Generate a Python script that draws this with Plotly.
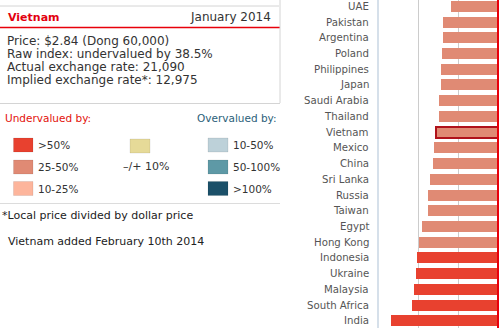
import plotly.graph_objects as go

countries = ["UAE", "Pakistan", "Argentina", "Poland", "Philippines", "Japan",
             "Saudi Arabia", "Thailand", "Vietnam", "Mexico", "China", "Sri Lanka",
             "Russia", "Taiwan", "Egypt", "Hong Kong", "Indonesia", "Ukraine",
             "Malaysia", "South Africa", "India"]
values = [-29.5, -34.6, -34.6, -35.2, -35.8, -35.8, -36.9, -36.9, -38.5, -39.7,
          -40.5, -42.2, -43.5, -43.5, -47.3, -49.6, -50.4, -51.0, -52.3, -53.5, -66.9]
highlight = "Vietnam"

legend_under = [">50%", "25-50%", "10-25%"]
legend_mid = ["\u2013/+ 10%"]
legend_over = ["10-50%", "50-100%", ">100%"]
col_under = ["#E8412F", "#E08A74", "#FDB59C"]
col_mid = ["#E6DA98"]
col_over = ["#BDD1D9", "#5E99A6", "#1B5069"]

info_lines = ["Price: $2.84 (Dong 60,000)",
              "Raw index: undervalued by 38.5%",
              "Actual exchange rate: 21,090",
              "Implied exchange rate*: 12,975"]

W, H = 500, 328
FONT = "DejaVu Sans, Verdana, sans-serif"


def px(x):
    return x / W


def py(y):
    return 1 - y / H


def bar_color(v):
    a = -v
    if a > 50:
        return col_under[0]
    if a > 25:
        return col_under[1]
    return col_under[2]


ypos = list(range(len(countries)))
fig = go.Figure()
fig.add_trace(go.Bar(
    x=values, y=ypos, orientation="h", width=0.7,
    marker=dict(color=[bar_color(v) for v in values],
                line=dict(color=["#B0121B" if c == highlight else "rgba(0,0,0,0)" for c in countries],
                          width=[2 if c == highlight else 0 for c in countries])),
    hoverinfo="skip"))

shapes = []
annotations = []

# zero line
shapes.append(dict(type="line", xref="x", yref="paper", x0=0, x1=0, y0=0, y1=1,
                   line=dict(color="#E8000B", width=2), layer="above"))
# left axis border
shapes.append(dict(type="line", xref="paper", yref="paper", x0=px(378), x1=px(378), y0=0, y1=1,
                   line=dict(color="#C9D6E3", width=1.5)))

# left panel lines
shapes.append(dict(type="line", xref="paper", yref="paper", x0=0, x1=px(279), y0=py(6), y1=py(6),
                   line=dict(color="#D4D4D4", width=1)))
shapes.append(dict(type="line", xref="paper", yref="paper", x0=0, x1=px(280), y0=py(27.5), y1=py(27.5),
                   line=dict(color="#E8000B", width=1.5)))
shapes.append(dict(type="line", xref="paper", yref="paper", x0=px(280), x1=px(280), y0=py(0), y1=py(103),
                   line=dict(color="#D4D4D4", width=1)))
shapes.append(dict(type="line", xref="paper", yref="paper", x0=0, x1=px(280), y0=py(103.5), y1=py(103.5),
                   line=dict(color="#D4D4D4", width=1)))
shapes.append(dict(type="line", xref="paper", yref="paper", x0=0, x1=px(280), y0=py(203.5), y1=py(203.5),
                   line=dict(color="#DCDCDC", width=1)))


def text(x, y, s, size=11, color="#333333", anchor="left", bold=False):
    annotations.append(dict(xref="paper", yref="paper", x=px(x), y=py(y), text=("<b>%s</b>" % s) if bold else s,
                            showarrow=False, xanchor=anchor, yanchor="middle",
                            font=dict(family=FONT, size=size, color=color)))


text(6, 17, "Vietnam", size=11, color="#E3000F", bold=True)
text(273, 17, "January 2014", size=12, color="#333333", anchor="right")
for i, s in enumerate(info_lines):
    text(5, 41.5 + i * 12.8, s, size=12, color="#333333")

text(3, 118, "Undervalued by:", size=10.5, color="#E3120B")
text(279, 118, "Overvalued by:", size=10.5, color="#2C5F7A", anchor="right")

rows = [145, 167, 188.5]
for i, (lab, c) in enumerate(zip(legend_under, col_under)):
    y = rows[i]
    shapes.append(dict(type="rect", xref="paper", yref="paper", x0=px(13.5), x1=px(33), y0=py(y - 7), y1=py(y + 7),
                       fillcolor=c, line=dict(color="rgba(0,0,0,0.08)", width=1)))
    text(36, y, lab, size=10.5, color="#333333")
for i, (lab, c) in enumerate(zip(legend_over, col_over)):
    y = rows[i]
    shapes.append(dict(type="rect", xref="paper", yref="paper", x0=px(208), x1=px(228), y0=py(y - 7), y1=py(y + 7),
                       fillcolor=c, line=dict(color="rgba(0,0,0,0.08)", width=1)))
    text(231, y, lab, size=10.5, color="#333333")
shapes.append(dict(type="rect", xref="paper", yref="paper", x0=px(130), x1=px(150), y0=py(139), y1=py(153),
                   fillcolor=col_mid[0], line=dict(color="rgba(0,0,0,0.08)", width=1)))
text(145.5, 166, legend_mid[0], size=11, color="#333333", anchor="center")

text(0, 215, "*Local price divided by dollar price", size=11, color="#222222")
text(6, 241.5, "Vietnam added February 10th 2014", size=11, color="#222222")

# country labels placed on the y data scale
for i, c in enumerate(countries):
    annotations.append(dict(xref="paper", yref="y", x=px(371), y=ypos[i], text=c, showarrow=False,
                            xanchor="right", yanchor="middle",
                            font=dict(family=FONT, size=10.2, color="#555555")))

pitch = 15.73
top_center = 6.3
y_top = -top_center / pitch
y_bot = (H - top_center) / pitch

fig.update_layout(
    width=W, height=H, margin=dict(l=0, r=0, t=0, b=0),
    paper_bgcolor="white", plot_bgcolor="white", showlegend=False,
    shapes=shapes, annotations=annotations, bargap=0,
    xaxis=dict(domain=[px(378), 1], range=[-75, 1.25], showticklabels=False, ticks="",
               showgrid=True, gridcolor="#CCCCCC", gridwidth=1, tickvals=[-50, -25],
               zeroline=False, showline=False, fixedrange=True),
    yaxis=dict(range=[y_bot, y_top], tickvals=ypos, showticklabels=False, ticks="",
               showgrid=False, zeroline=False, showline=False, fixedrange=True),
)

fig.write_html("out.html", config={"displayModeBar": False})
